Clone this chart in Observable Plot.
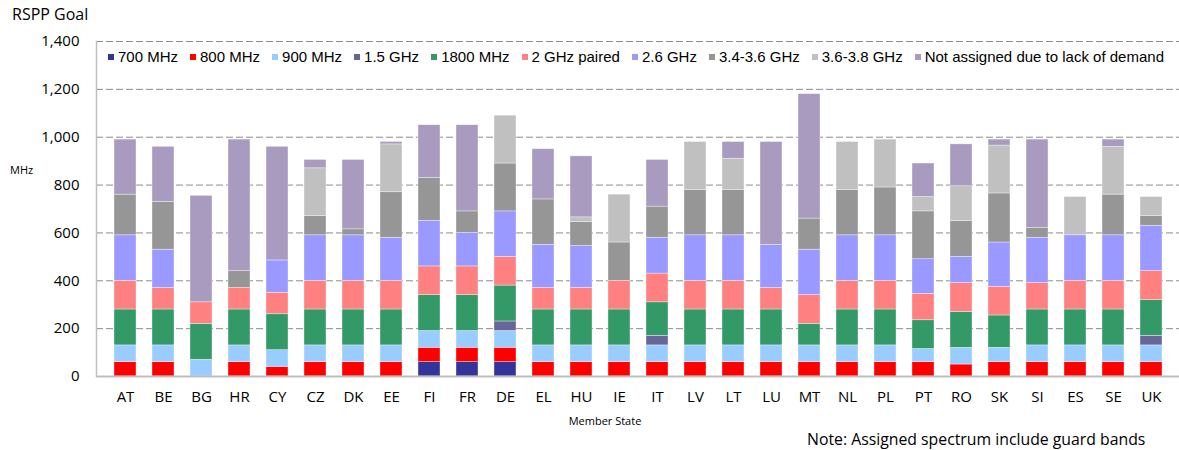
<!DOCTYPE html>
<html>
<head>
<meta charset="utf-8">
<script src="https://cdn.jsdelivr.net/npm/d3@7"></script>
<script src="https://cdn.jsdelivr.net/npm/@observablehq/plot@0.6"></script>
<style>
  html, body { margin: 0; padding: 0; background: #fff; }
  #wrap { position: relative; width: 1179px; height: 450px; overflow: hidden; font-family: "Open Sans", sans-serif; }
  #title { position: absolute; left: 12px; top: 3px; font-size: 16px; color: #000; }
  #mhz { position: absolute; left: 10px; top: 162px; font-size: 11px; color: #000; }
  #xlabel { position: absolute; left: 0; width: 1210px; text-align: center; top: 413px; font-size: 11px; color: #000; }
  #note { position: absolute; left: 807px; top: 428px; font-size: 15.8px; color: #000; white-space: nowrap; }
  #legend { position: absolute; left: 108px; top: 48px; display: flex; font-family: "Liberation Sans", Arial, sans-serif; font-size: 15px; color: #000; white-space: nowrap; }
  #legend .item { display: flex; align-items: center; margin-right: 12px; }
  #legend .sw { width: 6px; height: 6px; margin-right: 4px; }
</style>
</head>
<body>
<div id="wrap">
  <div id="chart"></div>
  <div id="title">RSPP Goal</div>
  <div id="mhz">MHz</div>
  <div id="xlabel">Member State</div>
  <div id="note">Note: Assigned spectrum include guard bands</div>
  <div id="legend"></div>
</div>
<script>
const countries = ["AT","BE","BG","HR","CY","CZ","DK","EE","FI","FR","DE","EL","HU","IE","IT","LV","LT","LU","MT","NL","PL","PT","RO","SK","SI","ES","SE","UK"];
const seriesNames = ["700 MHz","800 MHz","900 MHz","1.5 GHz","1800 MHz","2 GHz paired","2.6 GHz","3.4-3.6 GHz","3.6-3.8 GHz","Not assigned due to lack of demand"];
const seriesColors = ["#333399","#ff0000","#99ccff","#666699","#339966","#ff8080","#9999ff","#969696","#c0c0c0","#a99bbf"];

const s700  = [0,0,0,0,0,0,0,0,60,60,60,0,0,0,0,0,0,0,0,0,0,0,0,0,0,0,0,0];
const s800  = [60,60,0,60,40,60,60,60,60,60,60,60,60,60,60,60,60,60,60,60,60,60,50,60,60,60,60,60];
const s900  = [70,70,70,70,70,70,70,70,70,70,70,70,70,70,70,70,70,70,70,70,70,55,70,60,70,70,70,70];
const s1500 = [0,0,0,0,0,0,0,0,0,0,40,0,0,0,40,0,0,0,0,0,0,0,0,0,0,0,0,40];
const s1800 = [150,150,150,150,150,150,150,150,150,150,150,150,150,150,140,150,150,150,90,150,150,120,150,135,150,150,150,150];
const s2000 = [120,90,90,90,90,120,120,120,120,120,120,90,90,120,120,120,120,90,120,120,120,110,120,120,110,120,120,120];
const s2600 = [190,160,0,0,135,190,190,180,190,140,190,180,175,0,150,190,190,180,190,190,190,145,110,185,190,190,190,190];
const s3400 = [170,200,0,70,0,80,25,190,180,90,200,190,100,160,130,190,190,0,130,190,200,200,150,205,40,0,170,40];
const s3600 = [0,0,0,0,0,200,0,200,0,0,200,0,20,200,0,200,130,0,0,200,200,60,145,200,0,160,200,80];
const sNA   = [230,230,445,550,475,35,290,10,220,360,0,210,255,0,195,0,70,430,520,0,0,140,175,25,370,0,30,0];
const yTicks = [0,200,400,600,800,1000,1200,1400];

const seriesValues = [s700,s800,s900,s1500,s1800,s2000,s2600,s3400,s3600,sNA];
const data = [];
countries.forEach((c, i) => {
  seriesNames.forEach((s, j) => {
    data.push({country: c, series: s, value: seriesValues[j][i]});
  });
});

const chart = Plot.plot({
  width: 1179,
  height: 450,
  marginLeft: 96,
  marginRight: 0,
  marginTop: 41,
  marginBottom: 74,
  style: {fontFamily: "Open Sans, sans-serif", fontSize: "15px", color: "#000", background: "#fff"},
  x: {domain: countries, padding: 0.43, label: null, tickSize: 0, tickPadding: 15},
  y: {domain: [0, 1400], ticks: yTicks, tickFormat: d3.format(","), label: null, tickSize: 0, tickPadding: 17},
  color: {domain: seriesNames, range: seriesColors},
  marks: [
    Plot.ruleY(yTicks.slice(1), {stroke: "#8c8c8c", strokeWidth: 1, strokeDasharray: "7,3"}),
    Plot.barY(data, {x: "country", y: "value", fill: "series", stroke: "#ffffff", strokeWidth: 0.6, strokeOpacity: 0.6}),
    Plot.ruleY([0], {stroke: "#bfbfbf", strokeWidth: 2}),
    Plot.frame({anchor: "left", stroke: "#bfbfbf", strokeWidth: 1.5})
  ]
});
document.getElementById("chart").appendChild(chart);

const legend = document.getElementById("legend");
seriesNames.forEach((s, j) => {
  const it = document.createElement("div");
  it.className = "item";
  const sw = document.createElement("div");
  sw.className = "sw";
  sw.style.background = seriesColors[j];
  const t = document.createElement("span");
  t.textContent = s;
  it.appendChild(sw);
  it.appendChild(t);
  legend.appendChild(it);
});
</script>
</body>
</html>
